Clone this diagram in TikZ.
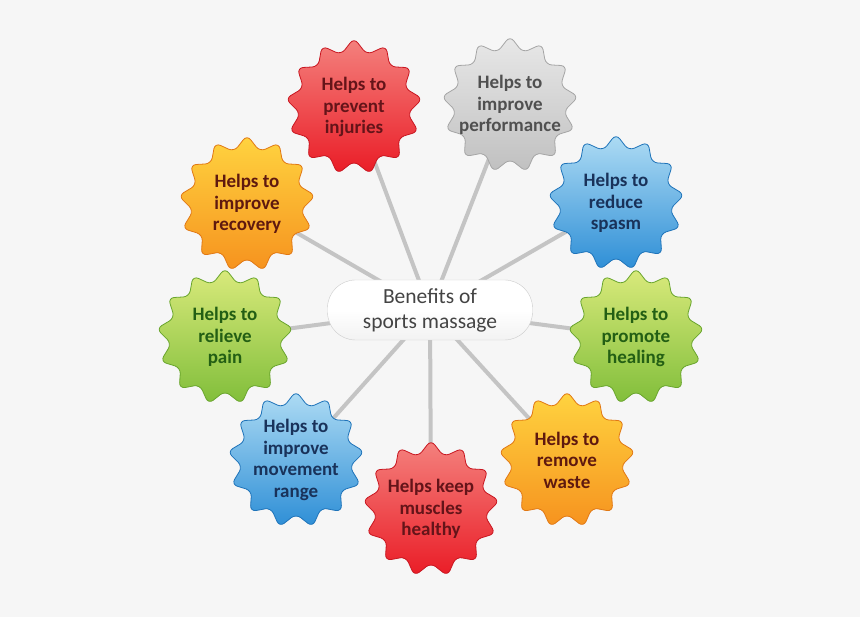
\documentclass[tikz,border=0pt]{standalone}
\usepackage{fontspec}
\setmainfont{Carlito}
\usepackage{tikz}
\usetikzlibrary{shapes.geometric, positioning}

\definecolor{bgcol}{RGB}{246,246,246}
\definecolor{spokecol}{RGB}{196,196,196}
\definecolor{redtop}{RGB}{244,130,126}
\definecolor{redbot}{RGB}{234,28,38}
\definecolor{redline}{RGB}{200,22,32}
\definecolor{redtxt}{RGB}{100,20,25}
\definecolor{graytop}{RGB}{232,232,232}
\definecolor{graybot}{RGB}{192,192,192}
\definecolor{grayline}{RGB}{165,165,165}
\definecolor{graytxt}{RGB}{80,80,80}
\definecolor{bluetop}{RGB}{175,220,244}
\definecolor{bluebot}{RGB}{45,142,214}
\definecolor{blueline}{RGB}{30,115,185}
\definecolor{bluetxt}{RGB}{25,50,90}
\definecolor{greentop}{RGB}{218,234,124}
\definecolor{greenbot}{RGB}{128,190,58}
\definecolor{greenline}{RGB}{105,165,45}
\definecolor{greentxt}{RGB}{35,95,20}
\definecolor{orangetop}{RGB}{255,212,64}
\definecolor{orangebot}{RGB}{246,146,30}
\definecolor{orangeline}{RGB}{225,120,20}
\definecolor{orangetxt}{RGB}{95,25,15}

\pgfdeclarelayer{spokes}
\pgfsetlayers{spokes,main}

\tikzset{
  burst/.style={shape=star, star points=13, star point ratio=1.28, minimum size=138pt,
    inner sep=0pt, rounded corners=6pt, line width=0.8pt, shading angle=35},
  burstlabel/.style={font=\fontsize{19}{21.5}\selectfont\bfseries, align=center},
  redburst/.style={burst, top color=redtop, middle color=redbot, bottom color=redbot, draw=redline,
    label={[burstlabel, text=redtxt]center:#1}},
  grayburst/.style={burst, top color=graytop, middle color=graybot!50!graytop, bottom color=graybot, draw=grayline,
    label={[burstlabel, text=graytxt]center:#1}},
  blueburst/.style={burst, top color=bluetop, middle color=bluebot, bottom color=bluebot, draw=blueline,
    label={[burstlabel, text=bluetxt]center:#1}},
  greenburst/.style={burst, top color=greentop, middle color=greenbot, bottom color=greenbot, draw=greenline,
    label={[burstlabel, text=greentxt]center:#1}},
  orangeburst/.style={burst, top color=orangetop, middle color=orangebot, bottom color=orangebot, draw=orangeline,
    label={[burstlabel, text=orangetxt]center:#1}},
  spoke/.style={draw=spokecol, line width=4pt},
}

\begin{document}
\begin{tikzpicture}[x=1pt, y=-1pt]
  \useasboundingbox (0,0) rectangle (860,617);
  \begin{pgfonlayer}{spokes}
    \fill[bgcol] (0,0) rectangle (860,617);
  \end{pgfonlayer}

  % centre box
  \node[draw=gray!40, rounded corners=28pt, top color=white, bottom color=gray!10, middle color=white,
        minimum width=205pt, minimum height=60pt, align=center, text=graytxt!85!black,
        font=\fontsize{21.5}{25}\selectfont] at (430,310) (hub) {Benefits of\\sports massage};

  % benefits, clockwise from the top
  \node[redburst={Helps to\\prevent\\injuries}] at (354,107) (injuries) {};
  \node[grayburst={Helps to\\improve\\performance}] at (510,105) (performance) {};
  \node[blueburst={Helps to\\reduce\\spasm}] at (616,203) (spasm) {};
  \node[greenburst={Helps to\\promote\\healing}] at (636,337) (healing) {};
  \node[orangeburst={Helps to\\remove\\waste}] at (567,460) (waste) {};
  \node[redburst={Helps keep\\muscles\\healthy}] at (431,509) (muscles) {};
  \node[blueburst={Helps to\\improve\\movement\\range}] at (296,460) (movement) {};
  \node[greenburst={Helps to\\relieve\\pain}] at (225,337) (pain) {};
  \node[orangeburst={Helps to\\improve\\recovery}] at (247,204) (recovery) {};

  \begin{pgfonlayer}{spokes}
    \foreach \b in {injuries, performance, spasm, healing, waste, muscles, movement, pain, recovery}
      \draw[spoke] (hub.center) -- (\b.center);
  \end{pgfonlayer}
\end{tikzpicture}
\end{document}
